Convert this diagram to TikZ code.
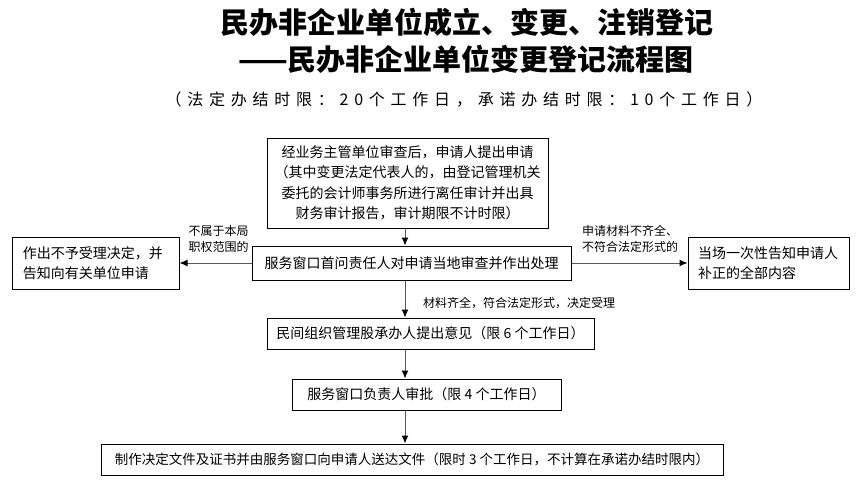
\documentclass[tikz,border=0pt]{standalone}
\usepackage{fontspec}
\setmainfont{Noto Sans CJK SC}
\newfontfamily\spacedcjk[LetterSpace=36]{Noto Sans CJK SC}
\usetikzlibrary{arrows.meta}
\begin{document}
\begin{tikzpicture}[x=1pt,y=-1pt,
  box/.style={draw=black,line width=1pt,inner sep=0pt,align=center,
    font=\fontsize{14}{20.5}\selectfont},
  lbl/.style={inner sep=0pt,align=center,font=\fontsize{12}{16}\selectfont},
  arr/.style={draw=black!65,line width=1pt,-{Latex[length=8pt,width=7pt,color=black]}}]
\useasboundingbox (0,0) rectangle (862,490);
\node[inner sep=0pt,font={\fontsize{29}{29}\selectfont\bfseries}] (t1) at (467,22.5) {民办非企业单位成立、变更、注销登记};
\node[inner sep=0pt,font={\fontsize{29}{29}\selectfont\bfseries}] (t2) at (466,59.5) {——民办非企业单位变更登记流程图};
\node[inner sep=0pt,font={\spacedcjk\fontsize{16}{16}\selectfont}] (t3) at (464,100) {（法定办结时限：20个工作日，承诺办结时限：10个工作日）};

\coordinate (ax) at (405,0);

\node[box,minimum width=281pt,minimum height=90pt] (b1) at (407.5,183)
  {经业务主管单位审查后，申请人提出申请\\（其中变更法定代表人的，由登记管理机关\\委托的会计师事务所进行离任审计并出具\\财务审计报告，审计期限不计时限）};
\node[box,minimum width=319pt,minimum height=34pt] (b2) at (411.5,263)
  {服务窗口首问责任人对申请当地审查并作出处理};
\node[box,align=left,inner xsep=11pt,text width=145pt,minimum height=52pt] (bl) at (95.5,263)
  {作出不予受理决定，并\\告知向有关单位申请};
\node[box,align=left,inner xsep=10pt,text width=141pt,minimum height=52pt] (br) at (768.5,263)
  {当场一次性告知申请人\\补正的全部内容};
\node[box,minimum width=327pt,minimum height=31pt] (b3) at (430.5,333.5)
  {民间组织管理股承办人提出意见（限 6 个工作日）};
\node[box,minimum width=269pt,minimum height=31pt] (b4) at (426.5,394.5)
  {服务窗口负责人审批（限 4 个工作日）};
\node[box,minimum width=622pt,minimum height=31pt,font=\fontsize{13.5}{20}\selectfont] (b5) at (412,459.5)
  {制作决定文件及证书并由服务窗口向申请人送达文件（限时 3 个工作日，不计算在承诺办结时限内）};

\node[lbl] (l1) at (218.5,239) {不属于本局\\职权范围的};
\node[lbl] (l2) at (630,239) {申请材料不齐全、\\不符合法定形式的};
\node[lbl] (l3) at (519,303) {材料齐全，符合法定形式，决定受理};

\draw[arr] (b1.south -| ax) -- (b2.north -| ax);
\draw[arr] (b2.south -| ax) -- (b3.north -| ax);
\draw[arr] (b3.south -| ax) -- (b4.north -| ax);
\draw[arr] (b4.south -| ax) -- (b5.north -| ax);
\draw[arr] (b2.west) -- (bl.east);
\draw[arr] (b2.east) -- (br.west);
\end{tikzpicture}
\end{document}
